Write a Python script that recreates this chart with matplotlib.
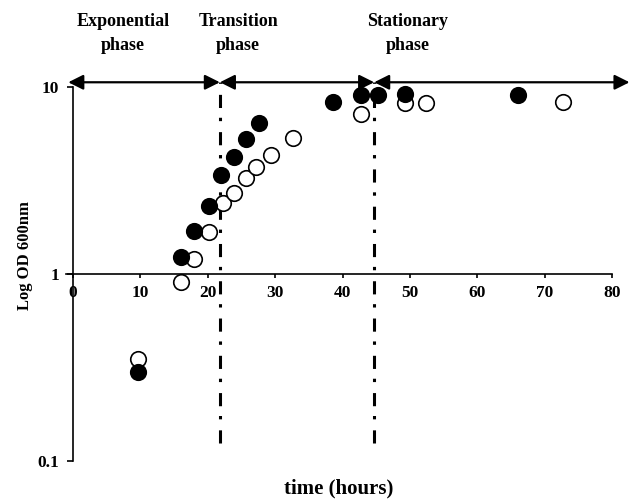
import matplotlib.pyplot as plt
from matplotlib.ticker import FixedLocator, NullLocator, FixedFormatter

plt.rcParams["font.family"] = ["Liberation Serif", "DejaVu Serif"]
plt.rcParams["font.weight"] = "bold"

# filled circles
t_filled = [9.7, 16.1, 17.95, 20.2, 21.9, 23.9, 25.7, 27.6, 38.6, 42.8, 45.2, 49.3, 66.0]
od_filled = [0.30, 1.24, 1.70, 2.32, 3.38, 4.24, 5.25, 6.44, 8.35, 9.06, 9.06, 9.17, 9.1]

# open circles
t_open = [9.7, 16.1, 17.95, 20.2, 22.2, 23.9, 25.7, 27.2, 29.4, 32.7, 42.8, 49.3, 52.4, 72.7]
od_open = [0.35, 0.91, 1.20, 1.68, 2.39, 2.72, 3.25, 3.75, 4.33, 5.36, 7.17, 8.18, 8.18, 8.35]

# phase boundaries (hours)
phase_edges = [-0.7, 21.8, 44.7, 82.6]
phase_names = ["Exponential\nphase", "Transition\nphase", "Stationary\nphase"]
phase_label_x = [7.4, 24.5, 49.7]

W, H = 635, 499
fig = plt.figure(figsize=(W / 100, H / 100), dpi=100)
ax = fig.add_axes([73 / W, 1 - 461 / H, (612 - 73) / W, (461 - 49.6) / H])

ax.set_yscale("log")
ax.set_xlim(0, 80)
ax.set_ylim(0.1, 10 ** 1.2)

ax.scatter(t_open, od_open, s=125, facecolor="white", edgecolor="black",
           linewidth=1.2, zorder=3, clip_on=False)
ax.scatter(t_filled, od_filled, s=125, facecolor="black", edgecolor="black",
           linewidth=1.2, zorder=4, clip_on=False)

# dash-dot phase boundaries
for xb in phase_edges[1:3]:
    ax.plot([xb, xb], [0.125, 10.6], color="black", lw=2.2,
            linestyle=(0, (4.3, 3.6, 1.1, 3.2)), zorder=2, clip_on=False)

# phase arrows
for a, b in zip(phase_edges[:-1], phase_edges[1:]):
    ax.annotate("", xy=(b, 10.6), xytext=(a, 10.6), annotation_clip=False,
                arrowprops=dict(arrowstyle="<|-|>,head_length=0.9,head_width=0.45",
                                color="black", lw=1.6, shrinkA=0, shrinkB=0))

for xl, name in zip(phase_label_x, phase_names):
    ax.text(xl, 10 ** 1.285, name, ha="center", va="center", fontsize=13,
            fontweight="bold", linespacing=1.55)

# axes styling
for s in ["top", "right"]:
    ax.spines[s].set_visible(False)
ax.spines["bottom"].set_position(("data", 1))
ax.spines["bottom"].set_bounds(-1, 80)
ax.spines["left"].set_bounds(0.1, 10)
ax.spines["bottom"].set_linewidth(1.2)
ax.spines["left"].set_linewidth(1.2)

ax.xaxis.set_major_locator(FixedLocator([0, 10, 20, 30, 40, 50, 60, 70, 80]))
ax.yaxis.set_major_locator(FixedLocator([0.1, 1, 10]))
ax.yaxis.set_major_formatter(FixedFormatter(["0.1", "1", "10"]))
ax.yaxis.set_minor_locator(NullLocator())
ax.tick_params(axis="both", direction="out", length=4, width=1.2,
               labelsize=12.5)
ax.tick_params(axis="x", length=3, pad=5)
ax.tick_params(axis="y", pad=6)
for lab in ax.get_xticklabels() + ax.get_yticklabels():
    lab.set_fontweight("bold")

ax.set_ylabel("Log OD 600nm", fontsize=12, fontweight="bold")
ax.yaxis.set_label_coords(-0.075, 0.5)
fig.text(339 / W, 1 - 488 / H, "time (hours)", ha="center", va="center",
         fontsize=15, fontweight="bold")

fig.savefig("out.png", dpi=100)
